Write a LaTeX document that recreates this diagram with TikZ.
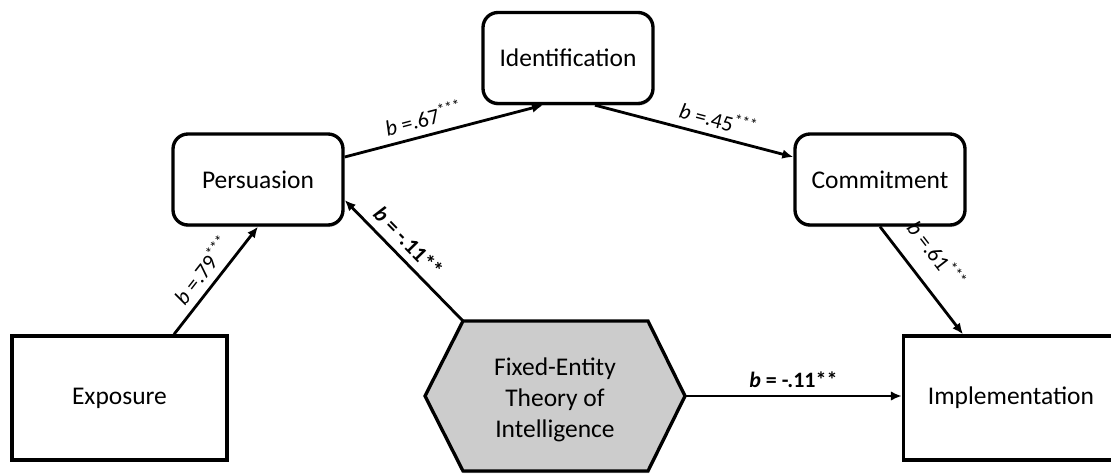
\documentclass[tikz,border=0pt]{standalone}
\usepackage{fontspec}
\setmainfont{Carlito}
\usepackage{tikz}
\usetikzlibrary{arrows.meta}
\usetikzlibrary{shadows}

\begin{document}
\begin{tikzpicture}[
  every node/.style = {font=\fontsize{14.5}{17.5}\selectfont},
  boxshadow/.style = {drop shadow={shadow xshift=0.3pt, shadow yshift=-1.2pt, fill=black!45, opacity=0.5}},
  stage/.style = {draw, line width=1.9pt, rounded corners=0.3cm, fill=white,
                  minimum width=3.4cm, minimum height=1.82cm, boxshadow},
  endpoint/.style = {draw, line width=1.9pt, fill=white,
                     minimum width=4.3cm, minimum height=2.48cm, boxshadow},
  link/.style = {line width=1.6pt, -{Latex[length=2.2mm,width=1.9mm]}},
  coef/.style = {font=\fontsize{12.5}{15}\selectfont, sloped, above=3pt, inner sep=1pt}
]
		\clip (0,0) rectangle (22.22,9.46);
		% mediators and outcomes
		\node[stage] (ident) at (11.36,8.30) {Identification};
		\node[stage] (pers) at (5.16,5.87) {Persuasion};
		\node[stage] (commit) at (17.60,5.87) {Commitment};
		\node[endpoint] (expo) at (2.39,1.50) {Exposure};
		\node[endpoint] (impl) at (20.22,1.50) {Implementation};
		% moderator hexagon
		\coordinate (hexL) at (8.50,1.54);
		\coordinate (hexTL) at (9.26,3.04);
		\coordinate (hexTR) at (12.96,3.04);
		\coordinate (hexR) at (13.70,1.54);
		\coordinate (hexBR) at (12.96,0.04);
		\coordinate (hexBL) at (9.26,0.04);
		\filldraw[line width=1.9pt, fill=black!20, boxshadow]
			(hexL) -- (hexTL) -- (hexTR) -- (hexR) -- (hexBR) -- (hexBL) -- cycle;
		\node[align=center] (fixed) at (11.10,1.46) {Fixed-Entity\\Theory of\\Intelligence};
		% paths
		\draw[link] ([xshift=1.09cm]expo.north) -- (pers.south)
			node[coef, pos=0.5] {\textit{b} =.79\textsuperscript{***}};
		\draw[link] ([yshift=0.45cm]pers.east) -- ([xshift=-0.5cm]ident.south)
			node[coef, pos=0.42] {\textit{b} =.67\textsuperscript{***}};
		\draw[link] ([xshift=0.54cm]ident.south) -- ([yshift=0.45cm]commit.west)
			node[coef, pos=0.6] {\textit{b} =.45\textsuperscript{***}};
		\draw[link] (commit.south) -- ([xshift=-0.96cm]impl.north)
			node[coef, pos=0.42, above=6pt] {\textit{b} =.61\textsuperscript{***}};
		\draw[link] (hexTL) -- ([yshift=-0.41cm]pers.east)
			node[coef, pos=0.56] {\textbf{\textit{b} = -.11**}};
		\draw[link] (hexR) -- (hexR -| impl.west)
			node[coef, pos=0.5] {\textbf{\textit{b} = -.11**}};
\end{tikzpicture}
\end{document}
